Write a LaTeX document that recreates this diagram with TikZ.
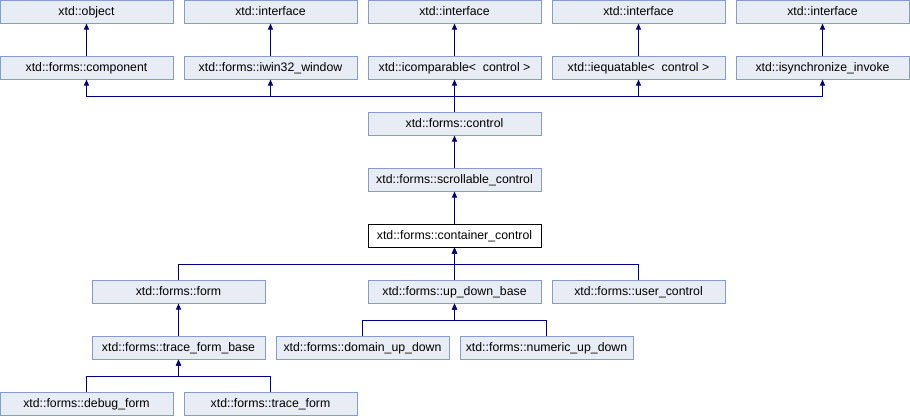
\documentclass[tikz,border=0pt]{standalone}
\usepackage{fontspec}
\setmainfont{Liberation Sans}
\usetikzlibrary{arrows.meta}
\definecolor{clsfill}{RGB}{232,236,244}
\definecolor{clsdraw}{RGB}{132,156,208}
\definecolor{edgeblue}{RGB}{0,0,128}
\begin{document}
\begin{tikzpicture}[x=1pt, y=-1pt,
    cls/.style={draw=clsdraw, fill=clsfill, line width=1pt, minimum width=173pt, minimum height=23pt, inner sep=0pt, text height=9.5pt, text depth=2.5pt, font=\fontsize{12.3}{14}\selectfont},
    cur/.style={cls, draw=black, fill=white},
    inh/.style={draw=edgeblue, line width=1pt, {Triangle[length=6pt,width=5pt]}-}]
    \useasboundingbox (0,0) rectangle (910,416);
    % top row
    \node[cls] (object) at (86.5,11.5) {xtd::object};
    \node[cls] (iface1) at (270.5,11.5) {xtd::interface};
    \node[cls] (iface2) at (454.5,11.5) {xtd::interface};
    \node[cls] (iface3) at (638.5,11.5) {xtd::interface};
    \node[cls] (iface4) at (822.5,11.5) {xtd::interface};
    % bases of control
    \node[cls] (component) at (86.5,67.5) {xtd::forms::component};
    \node[cls] (iwin) at (270.5,67.5) {xtd::forms::iwin32\_window};
    \node[cls] (icomp) at (454.5,67.5) {xtd::icomparable<~~control~>};
    \node[cls] (iequat) at (638.5,67.5) {xtd::iequatable<~~control~>};
    \node[cls] (isync) at (822.5,67.5) {xtd::isynchronize\_invoke};
    % main chain
    \node[cls] (control) at (454.5,123.5) {xtd::forms::control};
    \node[cls] (scrollable) at (454.5,179.5) {xtd::forms::scrollable\_control};
    \node[cur] (container) at (454.5,235.5) {xtd::forms::container\_control};
    % derived
    \node[cls] (form) at (178.5,291.5) {xtd::forms::form};
    \node[cls] (updown) at (454.5,291.5) {xtd::forms::up\_down\_base};
    \node[cls] (userctl) at (638.5,291.5) {xtd::forms::user\_control};
    \node[cls] (traceBase) at (178.5,347.5) {xtd::forms::trace\_form\_base};
    \node[cls] (domain) at (362.5,347.5) {xtd::forms::domain\_up\_down};
    \node[cls] (numeric) at (546.5,347.5) {xtd::forms::numeric\_up\_down};
    \node[cls] (debugForm) at (86.5,403.5) {xtd::forms::debug\_form};
    \node[cls] (traceForm) at (270.5,403.5) {xtd::forms::trace\_form};
    % buses
    \coordinate (busA) at (454.5,96);
    \coordinate (busB) at (454.5,264);
    \coordinate (busC) at (454.5,320.5);
    \coordinate (busD) at (178.5,376);
    % edges
    \draw[inh] (object) -- (component);
    \draw[inh] (iface1) -- (iwin);
    \draw[inh] (iface2) -- (icomp);
    \draw[inh] (iface3) -- (iequat);
    \draw[inh] (iface4) -- (isync);
    \foreach \base in {component,iwin,icomp,iequat,isync}
        \draw[inh] (\base.south) |- (busA) -- (control.north);
    \draw[inh] (control) -- (scrollable);
    \draw[inh] (scrollable) -- (container);
    \foreach \sub in {form,updown,userctl}
        \draw[inh] (container.south) -- (busB) -| (\sub.north);
    \draw[inh] (form) -- (traceBase);
    \foreach \sub in {domain,numeric}
        \draw[inh] (updown.south) -- (busC) -| (\sub.north);
    \foreach \sub in {debugForm,traceForm}
        \draw[inh] (traceBase.south) -- (busD) -| (\sub.north);
\end{tikzpicture}
\end{document}
